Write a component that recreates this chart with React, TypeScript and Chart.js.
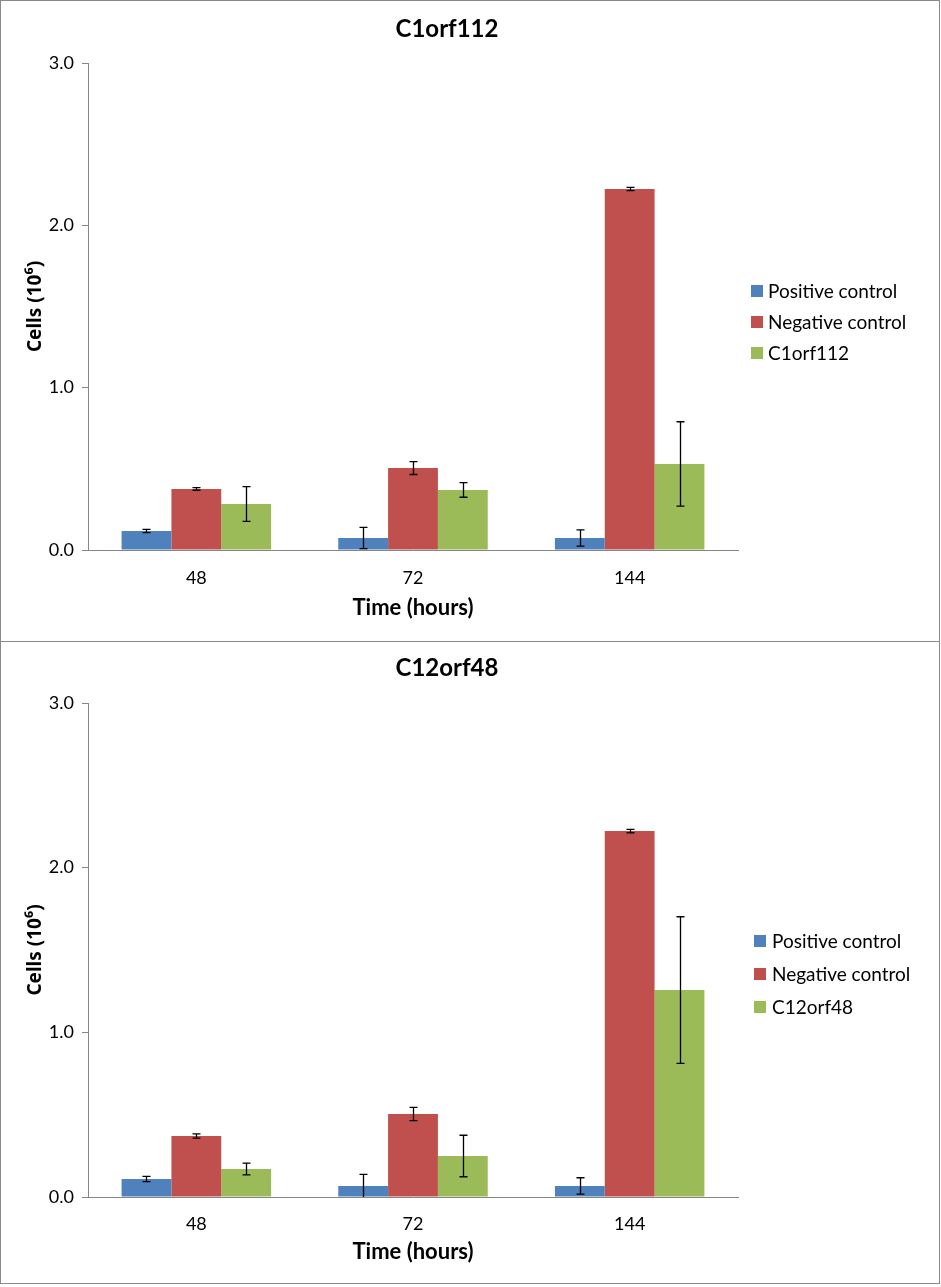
import React, { useEffect, useRef } from "react";
import { Chart, registerables } from "chart.js";

Chart.register(...registerables);

const FONT = "Lato, 'DejaVu Sans', sans-serif";
const YTITLE_FONT = "'Noto Sans', 'DejaVu Sans', sans-serif";

// ---- data ----
const categories = ["48", "72", "144"];
const seriesColors = ["#4F81BD", "#C0504D", "#9BBB59"];
const yTickValues = [0, 1, 2, 3];

const chart1Title = "C1orf112";
const chart1Labels = ["Positive control", "Negative control", "C1orf112"];
const chart1Positive = [0.117, 0.074, 0.074];
const chart1PositiveErr = [0.01, 0.065, 0.05];
const chart1Negative = [0.376, 0.505, 2.224];
const chart1NegativeErr = [0.008, 0.04, 0.01];
const chart1Gene = [0.283, 0.37, 0.53];
const chart1GeneErr = [0.107, 0.045, 0.26];

const chart2Title = "C12orf48";
const chart2Labels = ["Positive control", "Negative control", "C12orf48"];
const chart2Positive = [0.109, 0.067, 0.067];
const chart2PositiveErr = [0.016, 0.07, 0.05];
const chart2Negative = [0.37, 0.504, 2.222];
const chart2NegativeErr = [0.013, 0.04, 0.01];
const chart2Gene = [0.17, 0.249, 1.257];
const chart2GeneErr = [0.036, 0.126, 0.445];

const xAxisTitle = "Time (hours)";
const yAxisTitle = "Cells (10\u2076)";

// ---- plugin: error bars, title, legend ----
const excelDecor = {
  id: "excelDecor",
  afterDatasetsDraw(chart: any, _args: any, opts: any) {
    const ctx = chart.ctx;
    const yScale = chart.scales.y;
    const area = chart.chartArea;
    ctx.save();
    ctx.strokeStyle = "#000";
    ctx.lineWidth = 1.3;
    const cap = 4;
    chart.data.datasets.forEach((ds: any, i: number) => {
      const meta = chart.getDatasetMeta(i);
      const errs = ds.errors || [];
      meta.data.forEach((bar: any, j: number) => {
        const v = ds.data[j];
        const e = errs[j];
        if (e == null) return;
        const x = Math.round(bar.x) + 0.5;
        const yHi = yScale.getPixelForValue(v + e);
        const yLoRaw = yScale.getPixelForValue(v - e);
        const yLo = Math.min(yLoRaw, area.bottom);
        ctx.beginPath();
        ctx.moveTo(x, yHi);
        ctx.lineTo(x, yLo);
        ctx.moveTo(x - cap, yHi);
        ctx.lineTo(x + cap, yHi);
        if (yLoRaw <= area.bottom) {
          ctx.moveTo(x - cap, yLo);
          ctx.lineTo(x + cap, yLo);
        }
        ctx.stroke();
      });
    });
    ctx.restore();
  },
  afterDraw(chart: any, _args: any, opts: any) {
    const ctx = chart.ctx;
    ctx.save();
    // title
    ctx.fillStyle = "#000";
    ctx.font = `bold ${opts.titleSize}px ${FONT}`;
    ctx.textAlign = "center";
    ctx.textBaseline = "middle";
    ctx.fillText(opts.title, opts.titleX, opts.titleY);
    // legend
    ctx.font = `${opts.legendSize}px ${FONT}`;
    ctx.textAlign = "left";
    chart.data.datasets.forEach((ds: any, i: number) => {
      const cy = opts.legendTop + i * opts.legendGap;
      ctx.fillStyle = ds.backgroundColor;
      ctx.fillRect(opts.legendBoxX, cy - 6, 12, 12);
      ctx.fillStyle = "#000";
      ctx.fillText(ds.label, opts.legendTextX, cy + 1);
    });
    ctx.restore();
  },
};

type Layout = {
  height: number;
  padTop: number;
  padBottom: number;
  plotLeft: number;
  plotRight: number;
  xHeight: number;
  xTickPad: number;
  xTitlePad: number;
  titleX: number;
  titleY: number;
  legendTop: number;
  legendGap: number;
  legendBoxX: number;
  legendTextX: number;
};

function ChartPanel(props: {
  title: string;
  labels: string[];
  values: number[][];
  errors: number[][];
  layout: Layout;
}) {
  const ref = useRef<HTMLCanvasElement | null>(null);
  const { title, labels, values, errors, layout } = props;
  useEffect(() => {
    if (!ref.current) return;
    const W = 938;
    const chart = new Chart(ref.current, {
      type: "bar",
      data: {
        labels: categories,
        datasets: values.map((vals, i) => ({
          label: labels[i],
          data: vals,
          errors: errors[i],
          backgroundColor: seriesColors[i],
          borderWidth: 0,
          barPercentage: 1,
          categoryPercentage: 0.69,
        })) as any,
      },
      options: {
        responsive: false,
        animation: false,
        devicePixelRatio: 1,
        layout: {
          padding: {
            top: layout.padTop,
            bottom: layout.padBottom,
            left: 0,
            right: W - layout.plotRight,
          },
        },
        plugins: {
          legend: { display: false },
          tooltip: { enabled: false },
          title: { display: false },
          excelDecor: {
            title,
            titleSize: 24,
            titleX: layout.titleX,
            titleY: layout.titleY,
            legendSize: 19,
            legendTop: layout.legendTop,
            legendGap: layout.legendGap,
            legendBoxX: layout.legendBoxX,
            legendTextX: layout.legendTextX,
          },
        } as any,
        scales: {
          x: {
            grid: { display: false, drawTicks: false },
            border: { display: true, color: "#868686", width: 1 },
            ticks: { color: "#000", font: { family: FONT, size: 18 }, padding: layout.xTickPad },
            title: {
              display: true,
              text: xAxisTitle,
              color: "#000",
              font: { family: FONT, size: 22, weight: "bold" },
              padding: { top: 0, bottom: layout.xTitlePad },
            },
            afterFit: (s: any) => {
              s.height = layout.xHeight;
            },
          },
          y: {
            min: 0,
            max: 3,
            afterBuildTicks: (s: any) => {
              s.ticks = yTickValues.map((v) => ({ value: v }));
            },
            grid: { drawOnChartArea: false, drawTicks: true, tickLength: 6, color: "#868686" },
            border: { display: true, color: "#868686", width: 1 },
            ticks: {
              color: "#000",
              font: { family: FONT, size: 18 },
              padding: 8,
              callback: (v: any) => Number(v).toFixed(1),
            },
            title: {
              display: true,
              text: yAxisTitle,
              color: "#000",
              font: { family: YTITLE_FONT, size: 19, weight: "bold" },
              padding: { top: 23, bottom: 0 },
            },
            afterFit: (s: any) => {
              s.width = layout.plotLeft;
            },
          },
        } as any,
      },
      plugins: [excelDecor as any],
    });
    return () => chart.destroy();
  }, []);
  return <canvas ref={ref} width={938} height={layout.height} style={{ display: "block" }} />;
}

const layout1: Layout = {
  height: 640,
  padTop: 62,
  padBottom: 10,
  plotLeft: 87,
  plotRight: 737,
  xHeight: 81,
  xTickPad: 17,
  xTitlePad: 10,
  titleX: 446,
  titleY: 28,
  legendTop: 290,
  legendGap: 31,
  legendBoxX: 750,
  legendTextX: 767,
};

const layout2: Layout = {
  height: 641,
  padTop: 61,
  padBottom: 5,
  plotLeft: 87,
  plotRight: 737,
  xHeight: 81,
  xTickPad: 16,
  xTitlePad: 13,
  titleX: 446,
  titleY: 26,
  legendTop: 299,
  legendGap: 33,
  legendBoxX: 753,
  legendTextX: 771,
};

export default function App() {
  const boxStyle = (top: number, height: number): React.CSSProperties => ({
    position: "absolute",
    left: 0,
    top,
    width: 940,
    height,
    border: "1px solid #898989",
    boxSizing: "border-box",
    background: "#fff",
  });
  return (
    <div style={{ position: "absolute", left: 0, top: 0, width: 941, height: 1287, background: "#fff" }}>
      <div style={boxStyle(0, 642)}>
        <ChartPanel
          title={chart1Title}
          labels={chart1Labels}
          values={[chart1Positive, chart1Negative, chart1Gene]}
          errors={[chart1PositiveErr, chart1NegativeErr, chart1GeneErr]}
          layout={layout1}
        />
      </div>
      <div style={boxStyle(641, 643)}>
        <ChartPanel
          title={chart2Title}
          labels={chart2Labels}
          values={[chart2Positive, chart2Negative, chart2Gene]}
          errors={[chart2PositiveErr, chart2NegativeErr, chart2GeneErr]}
          layout={layout2}
        />
      </div>
    </div>
  );
}
